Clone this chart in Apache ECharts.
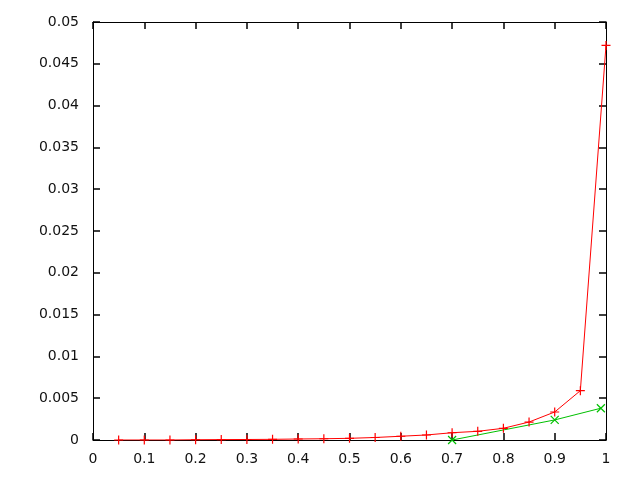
<!DOCTYPE html>
<html><head><meta charset="utf-8">
<script src="https://cdn.jsdelivr.net/npm/echarts@6/dist/echarts.min.js"></script>
<style>html,body{margin:0;padding:0;background:#fff}#c{width:640px;height:480px}</style>
</head><body><div id="c"></div>
<script>
const redX = [0.05,0.1,0.15,0.2,0.25,0.3,0.35,0.4,0.45,0.5,0.55,0.6,0.65,0.7,0.75,0.8,0.85,0.9,0.95,1.0];
const redY = [0,0,0,0.00003,0.00005,0.00006,0.00008,0.00012,0.00015,0.0002,0.0003,0.00045,0.0006,0.00087,0.00104,0.0014,0.00215,0.00335,0.0059,0.0472];
const greenX = [0.7,0.9,0.99];
const greenY = [0,0.0024,0.0038];
const xTicks = ['0','0.1','0.2','0.3','0.4','0.5','0.6','0.7','0.8','0.9','1'];
const yTicks = ['0','0.005','0.01','0.015','0.02','0.025','0.03','0.035','0.04','0.045','0.05'];

const plus = 'path://M-1,0L1,0M0,-1L0,1';
const cross = 'path://M-1,-1L1,1M-1,1L1,-1';
const font = () => ({fontFamily:'DejaVu Sans', fontSize:14, color:'#111'});
const axLine = () => ({show:true, onZero:false, lineStyle:{color:'#000', width:1}});
const tick = () => ({show:true, inside:true, length:7, lineStyle:{color:'#000', width:1.5}});

const chart = echarts.init(document.getElementById('c'));
chart.setOption({
  animation:false,
  backgroundColor:'#fff',
  grid:{left:93, right:34, top:22, bottom:40},
  xAxis:[
    {type:'value', min:0, max:1, interval:0.1, position:'bottom',
     axisLine:axLine(), axisTick:tick(), splitLine:{show:false},
     axisLabel:Object.assign({margin:12, formatter:v=>xTicks[Math.round(v*10)]}, font())},
    {type:'value', min:0, max:1, interval:0.1, position:'top',
     axisLine:axLine(), axisTick:tick(), splitLine:{show:false}, axisLabel:{show:false}}
  ],
  yAxis:[
    {type:'value', min:0, max:0.05, interval:0.005, position:'left',
     axisLine:axLine(), axisTick:tick(), splitLine:{show:false},
     axisLabel:Object.assign({margin:14, formatter:v=>yTicks[Math.round(v/0.005)]}, font())},
    {type:'value', min:0, max:0.05, interval:0.005, position:'right',
     axisLine:axLine(), axisTick:tick(), splitLine:{show:false}, axisLabel:{show:false}}
  ],
  series:[
    {type:'line', data:redX.map((x,i)=>[x,redY[i]]), symbol:plus, symbolSize:9,
     showAllSymbol:true, lineStyle:{color:'#ff0000', width:1},
     itemStyle:{color:'none', borderColor:'#ff0000', borderWidth:1.2}, z:3},
    {type:'line', data:greenX.map((x,i)=>[x,greenY[i]]), symbol:cross, symbolSize:8,
     showAllSymbol:true, lineStyle:{color:'#00c000', width:1},
     itemStyle:{color:'none', borderColor:'#00c000', borderWidth:1.2}, z:2}
  ]
});
</script>
</body></html>
